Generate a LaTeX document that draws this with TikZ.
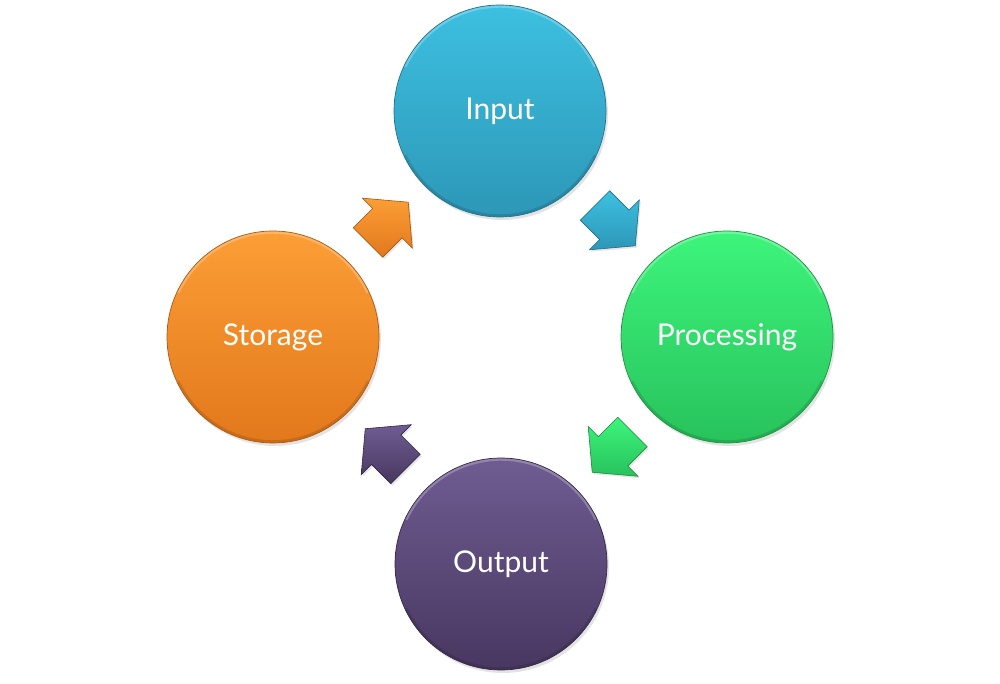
\documentclass[tikz,border=0pt]{standalone}
\usepackage{fontspec}
\setmainfont{Lato}
\usetikzlibrary{shapes.arrows,shadows,calc}
\definecolor{inTop}{HTML}{3DC0E1}
\definecolor{inBot}{HTML}{2D97B7}
\definecolor{prTop}{HTML}{3DF57B}
\definecolor{prBot}{HTML}{28C25C}
\definecolor{ouTop}{HTML}{6F5C92}
\definecolor{ouBot}{HTML}{483760}
\definecolor{stTop}{HTML}{FC9E36}
\definecolor{stBot}{HTML}{E2781C}
\tikzset{
  stage/.style={circle, minimum size=212pt, inner sep=0pt,
    draw=#1Bot!75!black, line width=0.7pt,
    top color=#1Top, bottom color=#1Bot, text=white,
    font=\fontsize{30}{34}\selectfont,
    drop shadow={opacity=0.22, shadow xshift=2pt, shadow yshift=-3pt},
    path picture={
      \draw[white, opacity=0.25, line width=2.5pt]
        ($(path picture bounding box.center)+(155:104.5)$) arc (155:25:104.5);
      \draw[black, opacity=0.12, line width=2.5pt]
        ($(path picture bounding box.center)+(205:104.5)$) arc (205:335:104.5);
    }},
  flow/.style={single arrow, minimum height=57pt, inner xsep=0pt, inner ysep=20.5pt,
    single arrow head extend=14.5pt, single arrow tip angle=100,
    draw=#1Bot!70!black, line width=0.6pt,
    top color=#1Top, bottom color=#1Bot,
    drop shadow={opacity=0.2, shadow xshift=1.5pt, shadow yshift=-2pt}}
}
\begin{document}
\begin{tikzpicture}[x=1pt,y=1pt]
\useasboundingbox (0,0) rectangle (1000,684);
\node[stage=in] (in) at (500,573) {Input};
\node[stage=pr] (pr) at (727,347) {Processing};
\node[stage=ou] (ou) at (501,120) {Output};
\node[stage=st] (st) at (273,347) {Storage};
\node[flow=st, rotate=45]   (a1) at ($(st)!0.48!(in)$) {};
\node[flow=in, rotate=-45]  (a2) at ($(in)!0.48!(pr)$) {};
\node[flow=pr, rotate=-135] (a3) at ($(pr)!0.48!(ou)$) {};
\node[flow=ou, rotate=135]  (a4) at ($(ou)!0.48!(st)$) {};
\end{tikzpicture}
\end{document}
